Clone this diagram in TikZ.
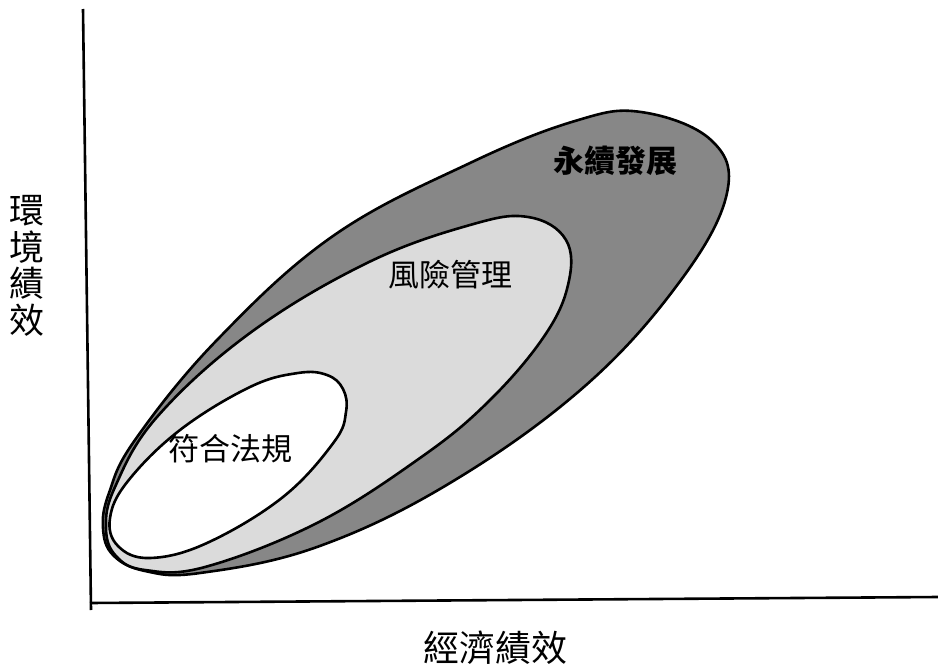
\documentclass[tikz,border=0pt]{standalone}
\usepackage{fontspec}
\newfontfamily\cjk{Noto Sans CJK TC}
\definecolor{darkband}{gray}{0.53}
\definecolor{lightband}{gray}{0.86}
\begin{document}
\begin{tikzpicture}[x=1pt,y=-1pt,
  shapeline/.style={line width=2.6pt, line join=round},
  axisline/.style={line width=2.6pt},
  lbl/.style={inner sep=0pt, font=\cjk\fontsize{31}{33}\selectfont}]
\useasboundingbox (0,0) rectangle (938,672);
\fill[white] (0,0) rectangle (938,672);
% axes
\coordinate (ytop) at (83,9);
\coordinate (ybot) at (91,610);
\coordinate (xleft) at (90,603);
\coordinate (xright) at (938,597);
\draw[axisline] (ytop) -- (ybot);
\draw[axisline] (xleft) -- (xright);
% outer shape
\filldraw[shapeline, fill=darkband] plot[smooth cycle, tension=0.65] coordinates {
(641,112) (711,140) (727,193) (681,280) (585,386) (450,483) (317,547) (200,573)
(145,571) (113,555) (103,528) (109,493) (135,440) (217,340) (333,236) (470,163) (575,121)};
% middle shape
\filldraw[shapeline, fill=lightband] plot[smooth cycle, tension=0.65] coordinates {
(528,217) (566,240) (568,285) (543,338) (487,403) (420,458) (317,523) (205,567)
(145,570) (116,556) (106,528) (115,487) (157,417) (250,333) (367,263) (470,225)};
% inner shape
\filldraw[shapeline, fill=white] plot[smooth cycle, tension=0.65] coordinates {
(298,373) (327,375) (343,389) (346,412) (334,442) (283,497) (207,543) (150,558)
(118,546) (110,518) (128,481) (180,430) (250,387)};
% labels
\node[lbl, font=\cjk\bfseries\fontsize{31}{33}\selectfont] (sd) at (615,161) {永續發展};
\node[lbl] (rm) at (450,275) {風險管理};
\node[lbl] (cp) at (230,449) {符合法規};
\node[inner sep=0pt, font=\cjk\fontsize{36}{38}\selectfont] (xl) at (495,648) {經濟績效};
\node[inner sep=0pt, align=center, font=\cjk\fontsize{35}{36.5}\selectfont] (yl) at (27,266) {環\\境\\績\\效};
\end{tikzpicture}
\end{document}
